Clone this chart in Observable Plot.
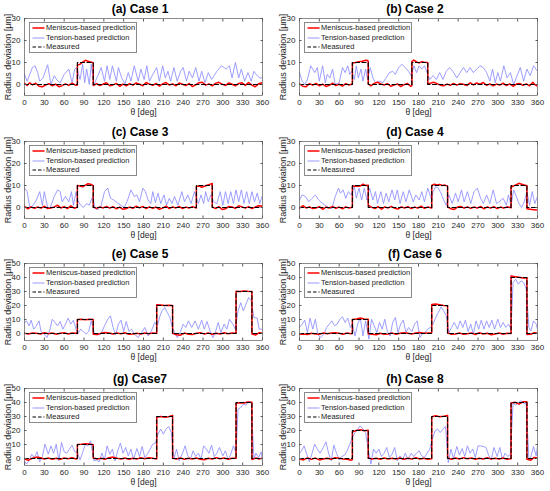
<!DOCTYPE html>
<html><head><meta charset="utf-8">
<script src="https://cdn.jsdelivr.net/npm/d3@7"></script>
<script src="https://cdn.jsdelivr.net/npm/@observablehq/plot@0.6"></script>
<style>
body{margin:0;background:#fff;font-family:Arial,"Liberation Sans",sans-serif;color:#262626}
#wrap{position:relative;width:550px;height:491px;overflow:hidden;background:#fff}
.panel{position:absolute;width:275px;height:123px}
.panel svg{position:absolute;left:0;top:0;overflow:visible}
.title{position:absolute;left:20px;width:240px;top:2px;text-align:center;font-weight:bold;font-size:12px;line-height:14px;color:#000}
.legend{position:absolute;left:29px;top:22px;width:108px;height:31px;background:#fff;border:0.8px solid #8a8a8a;box-sizing:border-box}
.legend .row{position:absolute;left:0;height:10px;width:100%}
.legend .row span{position:absolute;left:16px;top:0;font-size:7.5px;line-height:10px;color:#222;white-space:nowrap}
.legend .row svg{position:absolute;left:2px;top:3px}
</style></head>
<body><div id="wrap"></div>
<script>
// ---------- tick labels ----------
const xTicks = [0,30,60,90,120,150,180,210,240,270,300,330,360];
const yTicks30 = [0,10,20,30];
const yTicks50 = [0,10,20,30,40,50];
const titles = ["(a) Case 1","(b) Case 2","(c) Case 3","(d) Case 4","(e) Case 5","(f) Case 6","(g) Case7","(h) Case 8"];
const yMax = [30,30,30,30,50,50,50,50];
const legendLabels = ["Meniscus-based prediction","Tension-based prediction","Measured"];

// ---------- measured (theta, deviation) ----------
const c1Measured = [[0,0],[80,0],[80,10],[104,10],[104,0],[360,0]];
const c2Measured = [[0,0],[80,0],[80,10],[104,10],[104,0],[170,0],[170,10],[194,10],[194,0],[360,0]];
const c3Measured = [[0,0],[80,0],[80,10],[104,10],[104,0],[260,0],[260,10],[284,10],[284,0],[360,0]];
const c4Measured = [[0,0],[80,0],[80,10],[104,10],[104,0],[200,0],[200,10],[224,10],[224,0],[320,0],[320,10],[344,10],[344,0],[360,0]];
const c5Measured = [[0,0],[80,0],[80,10],[104,10],[104,0],[200,0],[200,20],[224,20],[224,0],[320,0],[320,30],[344,30],[344,0],[360,0]];
const c6Measured = [[0,0],[80,0],[80,10],[104,10],[104,0],[200,0],[200,20],[224,20],[224,0],[320,0],[320,40],[344,40],[344,0],[360,0]];
const c7Measured = [[0,0],[80,0],[80,10],[104,10],[104,0],[200,0],[200,30],[224,30],[224,0],[320,0],[320,40],[344,40],[344,0],[360,0]];
const c8Measured = [[0,0],[80,0],[80,20],[104,20],[104,0],[200,0],[200,30],[224,30],[224,0],[320,0],[320,40],[344,40],[344,0],[360,0]];

// ---------- meniscus-based prediction ----------
const c1Meniscus = [[0,0.5],[4,-0.4],[8,0.8],[12,-0.2],[17,0.6],[22,-0.8],[27,-1],[32,-0.3],[37,0.4],[42,-0.6],[47,0.2],[52,-1],[57,-0.5],[62,0.3],[67,-0.4],[72,0.6],[77,-0.3],[80,-0.2],[80,8.8],[84,9.2],[88,10.2],[92,11],[96,10.6],[100,10.2],[104,9.9],[104,-0.5],[109,0.4],[114,-0.5],[119,0.2],[124,0.8],[129,-0.6],[134,-0.2],[139,0.5],[144,-0.8],[149,0.2],[154,-0.6],[159,0.4],[164,-0.3],[169,0.7],[174,0.1],[179,-0.6],[184,0.9],[189,0.2],[194,-0.4],[199,0.5],[204,-0.7],[209,0.3],[214,0.9],[219,-0.2],[224,0.3],[229,-0.6],[234,0.7],[239,0.1],[244,-0.5],[249,0.4],[254,-0.9],[259,-0.2],[264,0.8],[269,1],[274,-0.3],[279,0.3],[284,-0.6],[289,0.5],[294,1],[299,0.2],[304,-0.5],[309,0.7],[314,0.1],[319,-0.6],[324,0.5],[329,0.8],[334,-0.4],[339,0.9],[344,-0.3],[349,-1],[354,0.3],[360,0.8]];
const c2Meniscus = [[0,0.3],[5,-0.8],[10,-1],[15,0.4],[20,-0.3],[25,0.5],[30,-0.6],[35,0.2],[40,-0.9],[45,-0.4],[50,0.6],[55,-0.5],[60,0.1],[65,-0.7],[70,0.4],[75,-0.2],[80,0.2],[80,9.8],[85,10],[90,10.4],[95,10.6],[100,11],[103,10.9],[104,10.5],[104,0.3],[108,-0.6],[113,0.5],[118,1],[123,0.3],[128,-0.2],[133,0.4],[138,-0.8],[143,-0.3],[148,0.3],[153,-0.9],[158,-0.2],[163,0.5],[168,-0.8],[170,-0.5],[170,10.5],[173,11.1],[177,10.3],[181,9.8],[185,10.4],[189,10.1],[194,10],[194,0.2],[198,0.6],[203,1],[208,0.4],[213,-0.3],[218,-0.6],[223,0.2],[228,-0.4],[233,0.5],[238,-0.3],[243,0.4],[248,0.1],[253,-0.5],[258,0.8],[263,-0.2],[268,0.7],[273,0.1],[278,0.9],[283,-0.4],[288,0.3],[293,-0.6],[298,0.2],[303,-0.3],[308,0.6],[313,-0.5],[318,0.3],[323,-0.8],[328,0.2],[333,0.5],[338,-0.4],[343,0.3],[348,-0.6],[353,1],[357,-0.3],[360,-0.8]];
const c3Meniscus = [[0,0.5],[5,-0.6],[10,0.3],[15,-0.4],[20,0.2],[25,-0.3],[30,0.6],[35,-0.5],[40,-0.2],[45,0.3],[50,1],[55,-0.2],[60,0.4],[65,-0.5],[70,0.8],[75,-0.3],[80,0.1],[80,10],[84,9.8],[88,9.4],[92,10.2],[96,10.8],[100,10.6],[104,9.9],[104,0.2],[109,-0.4],[114,0.3],[119,-0.2],[124,0.5],[129,-0.3],[134,0.4],[139,-0.6],[144,0.2],[149,-0.8],[154,-0.5],[159,0.2],[164,-0.4],[169,0.6],[174,-0.2],[179,0.5],[184,-0.5],[189,0.3],[194,-0.4],[199,0.2],[204,-0.8],[209,-0.3],[214,0.6],[219,-0.5],[224,0.3],[229,-0.2],[234,0.5],[239,-0.5],[244,0.2],[249,-0.3],[254,0.4],[260,-0.2],[260,9.6],[264,9.8],[268,9.2],[272,9.6],[276,10.1],[280,10.5],[284,10.9],[284,0.3],[289,-0.5],[294,0.4],[299,-0.9],[304,-0.6],[309,0.5],[314,0.2],[319,-0.4],[324,0.8],[329,0.3],[334,-0.3],[339,0.4],[344,-0.5],[349,0.2],[354,0.8],[360,0.6]];
const c4Meniscus = [[0,-0.3],[5,0.8],[10,-0.2],[15,0.3],[20,-0.5],[25,-0.2],[30,0.4],[35,-0.8],[40,0.2],[45,-0.3],[50,0.5],[55,-0.4],[60,0.2],[65,-0.6],[70,0.3],[75,-0.2],[80,0.1],[80,9.5],[84,9.8],[88,9.6],[92,9.8],[96,10.6],[100,10],[104,10.1],[104,1],[109,0.2],[114,-0.5],[119,0.4],[124,-0.8],[129,0.3],[134,-0.2],[139,0.5],[144,-0.4],[149,-0.7],[154,0.3],[159,-0.2],[164,0.4],[169,-0.5],[174,0.2],[179,-0.3],[184,0.6],[189,-0.4],[194,0.2],[200,-0.2],[200,10],[204,10.6],[208,10.2],[212,10.5],[216,10],[220,10.2],[224,9.6],[224,0.3],[229,-0.6],[234,-0.9],[239,0.2],[244,0.5],[249,-0.3],[254,0.3],[259,-0.4],[264,0.2],[269,-0.3],[274,0.5],[279,-0.6],[284,0.3],[289,-0.3],[294,0.4],[299,-0.5],[304,0.2],[309,-0.3],[314,0.3],[320,-0.1],[320,9.3],[324,9.8],[328,10.4],[332,11],[336,10.6],[340,10.2],[344,9.9],[344,-0.6],[349,-0.8],[354,-1],[360,-1.2]];
const c5Meniscus = [[0,0.2],[6,-0.3],[12,0.4],[18,0.1],[24,-0.4],[30,0.5],[36,-0.2],[42,0.3],[48,-0.5],[54,0.2],[60,0.6],[66,-0.3],[72,0.4],[78,0.1],[80,0],[80,10],[86,10.2],[92,9.9],[98,10.1],[104,10],[104,-0.5],[110,-0.8],[116,0.2],[122,0.7],[128,0.4],[134,-0.4],[140,0.3],[146,-0.2],[152,0.5],[158,-0.6],[164,-0.3],[170,0.2],[176,-0.4],[182,0.3],[188,-0.2],[194,0.4],[200,0.1],[200,20.6],[206,20.3],[212,20],[218,20.2],[224,20],[224,0.2],[230,-0.9],[236,-1.2],[242,0.3],[248,-0.5],[254,-0.8],[260,0.2],[266,0.6],[272,-0.3],[278,0.4],[284,-0.6],[290,0.2],[296,-0.4],[302,0.5],[308,-0.2],[314,0.3],[320,0.2],[320,30.2],[326,30],[332,30.3],[338,30.1],[344,30],[344,-0.4],[350,-1],[355,0.6],[360,0.4]];
const c6Meniscus = [[0,-0.5],[6,-0.3],[12,-0.8],[18,0.2],[24,-0.4],[30,-0.6],[36,0.3],[42,-0.2],[48,0.4],[54,0.6],[60,0.2],[66,-0.5],[72,0.3],[78,-0.2],[80,0],[80,10],[86,10.3],[92,11],[98,10.4],[104,10.2],[104,-0.2],[110,-0.6],[116,-0.9],[122,0.2],[128,-0.5],[134,-0.3],[140,0.3],[146,-0.6],[152,0.2],[158,0.6],[164,0.2],[170,-0.4],[176,0.3],[182,0.7],[188,0.2],[194,0.4],[200,0.5],[200,20.8],[206,21],[212,20.6],[218,20],[224,19.8],[224,0.3],[230,-0.5],[236,-0.3],[242,0.4],[248,-0.6],[254,-0.2],[260,0.3],[266,-0.7],[272,0.5],[278,-0.3],[284,0.2],[290,-0.9],[296,-0.4],[302,0.3],[308,-0.5],[314,0.2],[320,0],[320,41],[326,40.6],[332,40.1],[338,39.6],[344,39.8],[344,-0.8],[350,-0.5],[355,0.6],[360,0.2]];
const c7Meniscus = [[0,-0.4],[6,-1.2],[12,0.2],[18,1],[24,0.5],[30,-0.3],[36,0.4],[42,-0.5],[48,0.2],[54,-0.6],[60,0.3],[66,-0.2],[72,0.5],[78,-0.3],[80,0],[80,10],[86,10.2],[92,10.6],[98,10.3],[104,9.8],[104,0.3],[110,-0.4],[116,0.2],[122,-0.5],[128,0.6],[134,1],[140,0.2],[146,-0.3],[152,0.4],[158,-0.5],[164,0.2],[170,-0.3],[176,0.6],[182,-0.2],[188,0.5],[194,0.1],[200,-0.3],[200,29.4],[206,30],[212,29.5],[218,29.8],[224,30.8],[224,0.2],[230,-0.4],[236,0.3],[242,-0.6],[248,0.2],[254,-0.3],[260,0.4],[266,-0.5],[272,-0.9],[278,0.2],[284,-0.4],[290,0.6],[296,-0.2],[302,0.3],[308,-0.5],[314,0.2],[320,0.1],[320,39.4],[326,39.8],[332,39.6],[338,40.4],[344,40.2],[344,-0.8],[350,0.4],[355,-0.3],[360,0.3]];
const c8Meniscus = [[0,-0.3],[6,-1],[12,0.4],[18,-0.6],[24,0.3],[30,-1],[36,-0.4],[42,0.2],[48,-0.5],[54,0.5],[60,0.2],[66,-0.3],[72,-0.5],[78,-1.2],[80,-0.8],[80,19],[86,20],[92,20.6],[98,19.8],[104,20.2],[104,0.4],[110,-0.3],[116,0.2],[122,-0.5],[128,0.3],[134,-0.4],[140,0.2],[146,-0.3],[152,0.4],[158,-0.6],[164,0.2],[170,-0.4],[176,0.5],[182,-0.3],[188,0.2],[194,-0.6],[200,-0.2],[200,29.8],[206,30.6],[212,29.8],[218,30.2],[224,30.8],[224,0.3],[230,-0.5],[236,0.4],[242,-0.3],[248,0.6],[254,-0.2],[260,0.3],[266,-0.5],[272,0.2],[278,-0.3],[284,0.5],[290,-0.4],[296,0.2],[302,-0.3],[308,0.4],[314,-0.5],[320,-0.2],[320,39.6],[326,40.2],[332,38.8],[338,40.5],[344,40.6],[344,-0.6],[350,-1.2],[355,0.8],[360,0.4]];

// ---------- tension-based prediction ----------
const c1Tension = [[0,4.6],[4,1.5],[12,7.7],[16,8.5],[20,5.4],[23,1.5],[28,3],[35,9],[40,0],[45,4],[49,2],[54,0.8],[60,4.6],[67,7],[72,0.8],[76,7],[79,7.7],[84,2.3],[88,9.2],[91,0.8],[94,7],[98,0],[101,9.2],[105,0],[111,4],[116,7.7],[121,1.5],[125,8.5],[129,2.3],[133,8.5],[139,1.5],[142,7.7],[147,3],[152,0.3],[157,5.4],[161,1.5],[166,8.5],[172,1.5],[176,7],[181,2.3],[185,8.5],[189,1.5],[194,4.6],[200,7.7],[204,1.5],[209,8.5],[213,3],[217,6],[221,1.5],[226,7.7],[231,1.5],[236,6],[240,7.7],[245,1.5],[249,6],[254,3],[259,7.7],[264,1.5],[268,6],[273,0.8],[278,5.4],[283,2.3],[291,6],[298,8.5],[305,7],[310,8.5],[314,3],[319,10],[324,3],[328,7],[333,1.5],[338,5.4],[343,1.5],[347,6],[352,4],[356,3],[360,3]];
const c2Tension = [[0,5.4],[4,1.5],[8,0],[12,2.3],[17,8.5],[20,7],[23,5.4],[27,7.7],[30,1.5],[35,8.5],[39,0.8],[42,4.6],[46,3],[50,7],[54,0],[60,0.8],[65,7.7],[69,5.4],[73,8.5],[76,4.6],[79,6],[83,2.3],[86,8.5],[89,3],[93,7],[96,1.5],[100,7],[103,2.3],[107,7.7],[111,3],[115,0.8],[121,1.5],[126,0.8],[131,3],[136,5.4],[141,6],[145,4.6],[150,7.7],[155,9.2],[160,7.7],[165,6],[169,4],[173,8.5],[177,5.4],[181,8.5],[185,7],[189,8.5],[193,5.4],[197,2.3],[202,4],[207,2.3],[212,5.4],[217,2.3],[222,6],[227,7.7],[232,6],[238,3],[243,5.4],[248,7.7],[253,5.4],[258,7.7],[263,5.4],[268,7],[273,8.5],[278,7.7],[283,5.4],[288,1.5],[292,7],[296,0.8],[300,5.4],[304,1.5],[309,8.5],[314,3],[319,5.4],[324,0],[329,4],[334,7.7],[339,1.5],[344,7],[349,4],[354,8.5],[360,6]];
const c3Tension = [[0,8.8],[4,7.2],[8,0],[13,1],[18,3.4],[23,7.2],[27,1],[30,7.2],[35,0],[39,0],[45,5],[50,8],[54,7.2],[57,2.6],[62,5],[67,2.6],[71,7.2],[74,1],[78,7.2],[81,3],[85,1],[89,0],[94,1.8],[98,1],[103,5],[107,-0.5],[111,-1],[116,1],[121,7.2],[126,8.8],[130,4.2],[135,3.4],[140,2.2],[146,1],[151,0],[156,3.4],[161,8],[166,5],[170,5.7],[174,2.6],[179,8.8],[183,7.2],[187,3.4],[191,1.8],[194,7.2],[198,2.2],[202,6.5],[206,1.8],[211,5.7],[215,1],[219,4.2],[223,1.8],[227,5],[232,1],[238,7.2],[242,2.6],[247,5.7],[252,1.8],[257,7.2],[263,1.8],[267,5.7],[271,1.8],[274,7.2],[278,2.6],[282,5.7],[286,2.6],[291,1.8],[296,7.2],[300,1],[304,7.2],[308,1.8],[312,7.2],[316,1.8],[320,8],[324,2.6],[328,8],[332,1.8],[336,7.2],[340,1.8],[344,7.2],[348,2.6],[352,6.5],[356,1.8],[360,5.7]];
const c4Tension = [[0,3.4],[4,5.7],[9,5],[14,2.6],[19,4.2],[24,5.7],[29,3.4],[35,1.8],[39,1],[44,0],[49,-0.5],[54,5],[59,8.8],[62,6.5],[66,8],[70,4.2],[74,7.2],[78,5.7],[83,9.5],[86,4.2],[90,8.8],[94,3.4],[98,8.8],[102,3.4],[106,8.8],[111,3.4],[115,7.2],[118,1.8],[123,7.2],[127,1.8],[131,6.5],[135,2.6],[140,8],[144,3.4],[148,8],[152,1.8],[157,7.2],[161,2.6],[166,8],[172,2.6],[176,5.7],[181,3.4],[185,7.2],[189,2.6],[194,8.8],[200,3.4],[202,7.2],[206,9.5],[210,8.8],[214,6.5],[218,3.4],[222,1],[226,5.7],[231,1.8],[236,6.5],[240,2.6],[245,8],[249,2.6],[254,7.2],[259,1.8],[264,7.2],[269,8.8],[274,4.2],[278,1.8],[283,5.7],[288,1.8],[293,8],[298,1.8],[302,2.6],[308,4.2],[313,1],[316,5.7],[320,1],[324,8],[328,5],[332,1.8],[336,0],[340,2.6],[344,7.2],[348,1],[352,7.2],[356,1.8],[360,5]];
const c5Tension = [[0,7.9],[3,9],[7,5.5],[10,9.5],[14,3.1],[18,5.5],[22,9],[25,1.4],[29,0],[34,-2.9],[38,1.9],[42,10.2],[46,7.9],[50,5.5],[54,8.6],[58,3.1],[62,6.7],[66,11],[70,6.7],[74,9.5],[78,3.1],[81,0],[85,3.1],[89,1.4],[93,-0.5],[97,1.4],[101,9],[106,-0.5],[111,-1],[116,0],[121,5.5],[126,10.2],[130,12.6],[134,4.3],[138,-1],[142,6.7],[146,9.5],[150,1.4],[154,8.6],[158,1.4],[162,3.1],[166,-0.5],[172,-2.9],[177,0.7],[182,4.3],[187,-1.7],[192,1.9],[197,7.9],[201,5.5],[205,12.6],[208,16.2],[212,18.6],[216,15],[220,11.4],[223,5.5],[227,0.7],[231,-2.9],[236,1.4],[240,6.7],[244,4.3],[248,9],[253,4.3],[258,9],[263,3.1],[268,9.5],[272,3.1],[276,8.6],[281,1.4],[285,-2.9],[289,1.4],[293,7.9],[297,0.7],[302,6.7],[306,3.1],[310,10.2],[315,6.7],[319,3.1],[323,16.2],[327,22],[331,16.2],[335,21],[339,25.7],[343,23.3],[347,11.4],[352,11],[355,3.1],[360,3.1]];
const c6Tension = [[0,4.3],[4,6.7],[8,9.5],[12,0.7],[16,11],[20,3.1],[24,10.2],[28,-1],[32,-2.9],[37,-0.5],[41,4.3],[45,6.7],[49,9],[53,5.5],[57,6.7],[61,10.2],[65,11.9],[69,7.9],[73,11],[77,4.3],[80,6.7],[84,-1.7],[88,6.7],[92,11],[96,-1.7],[100,9],[105,-4],[109,10.2],[113,5.5],[117,0.7],[121,7.9],[125,3.1],[129,10.2],[133,1.4],[137,-1.7],[141,7.9],[145,11.4],[149,0.7],[153,6.7],[157,9.5],[161,0.7],[165,4.3],[170,1.4],[174,6.7],[178,9],[182,-2.9],[186,0],[190,0.7],[194,3.1],[198,4.3],[202,6.7],[206,11.4],[210,15],[214,19],[218,16.2],[222,12.6],[226,0.7],[230,4.3],[234,7.9],[239,3.1],[243,9],[247,4.3],[251,9.5],[255,1.4],[259,6.7],[263,-0.5],[267,9],[271,3.1],[275,9.5],[279,3.1],[283,9],[287,4.3],[291,9.5],[295,3.1],[300,10.2],[304,4.3],[308,7.9],[312,4.3],[316,6.7],[320,3.1],[323,36.4],[327,38.8],[331,35.2],[335,37.6],[339,36.4],[343,31.7],[347,4.3],[350,1.9],[354,9],[358,6.7],[360,3.1]];
const c7Tension = [[0,-1.7],[3,-4],[7,-1.7],[11,3.1],[15,0.7],[19,4.8],[23,-2.4],[27,1.4],[31,10.2],[36,3.1],[40,9],[44,3.8],[48,10.2],[52,-1.7],[56,11.4],[60,4.8],[64,3.8],[68,6.7],[72,9.5],[76,4.8],[80,4.3],[84,-1],[88,4.3],[92,10.2],[96,9],[100,12.6],[105,-1.7],[109,-1],[113,-2.4],[117,3.8],[121,-1],[125,9],[129,3.1],[133,6.7],[137,-1.7],[141,5.5],[145,11],[149,3.8],[153,7.9],[157,1.9],[161,6.7],[165,-0.5],[170,7.1],[174,1.4],[178,8.6],[182,0.7],[186,3.1],[190,6.7],[194,10.2],[198,11],[202,17.4],[206,21],[210,17.4],[214,21],[218,22.9],[222,18.6],[226,0],[230,6.7],[234,-1.7],[239,3.8],[243,9],[247,1.9],[251,-0.5],[255,5.5],[259,1.4],[263,3.8],[267,-0.5],[271,9],[275,6.7],[279,3.8],[283,9.5],[287,1.4],[291,3.8],[295,7.9],[300,1.9],[304,5.5],[308,-1],[312,3.1],[316,9],[320,3.8],[323,35.2],[327,36.4],[331,38.8],[335,38.1],[339,40.5],[343,40],[347,-0.5],[350,3.8],[354,0.7],[358,4.8],[360,-2.9]];
const c8Tension = [[0,3.8],[3,5.5],[7,9],[11,3.1],[15,-2.4],[19,3.8],[23,10.2],[27,6.7],[31,3.8],[36,7.9],[40,11.9],[44,3.8],[48,-1.7],[52,9.5],[56,3.8],[60,-1],[64,1.4],[68,2.4],[72,5.5],[76,10.2],[80,15],[84,18.6],[88,21],[92,23.3],[96,21],[100,18.6],[103,9],[108,-4],[112,6.7],[116,3.8],[120,6.7],[124,1.4],[128,3.8],[132,7.9],[136,0.7],[140,3.1],[144,7.9],[148,-1.7],[152,1.9],[156,-1],[160,3.8],[164,-0.5],[169,3.8],[173,1.4],[177,3.8],[181,5.5],[185,1.9],[189,0.7],[193,3.8],[197,6.7],[201,13.8],[205,19.8],[209,21],[213,18.6],[217,21],[221,22.9],[225,-2.9],[229,6.7],[233,0],[238,8.6],[242,2.4],[246,7.1],[250,1.4],[254,9],[258,3.8],[262,6.7],[266,0.7],[270,9],[274,9],[278,8.6],[282,7.9],[286,2.4],[290,-1],[294,7.9],[299,1.4],[303,7.9],[307,-0.5],[311,3.8],[315,1.4],[319,3.1],[323,39.5],[327,38.1],[331,40],[335,41.2],[339,39.5],[343,38.8],[347,-1],[350,1.4],[354,8.6],[358,1.9],[360,9]];

const meniscus = [c1Meniscus,c2Meniscus,c3Meniscus,c4Meniscus,c5Meniscus,c6Meniscus,c7Meniscus,c8Meniscus];
const tension = [c1Tension,c2Tension,c3Tension,c4Tension,c5Tension,c6Tension,c7Tension,c8Tension];
const measured = [c1Measured,c2Measured,c3Measured,c4Measured,c5Measured,c6Measured,c7Measured,c8Measured];

// ---------- layout ----------
const colX = [0,275];
const rowY = [0,123,245,370];
const RED = "#ff0000", BLUE = "#8c8cff", BLACK = "#000000";
const FONT = "Arial, 'Liberation Sans', sans-serif";
const wrap = document.getElementById("wrap");
const toRows = a => a.map(([t,v]) => ({t, v}));

titles.forEach((title, i) => {
  const panel = document.createElement("div");
  panel.className = "panel";
  panel.style.left = colX[i % 2] + "px";
  panel.style.top = rowY[Math.floor(i / 2)] + "px";
  const yt = yMax[i] === 30 ? yTicks30 : yTicks50;
  const svg = Plot.plot({
    width: 275, height: 123,
    marginLeft: 24, marginRight: 13, marginTop: 18, marginBottom: 28,
    style: {fontFamily: FONT, fontSize: "8px", color: "#262626", background: "transparent", overflow: "visible"},
    x: {domain: [0, 360]},
    y: {domain: [-5, yMax[i]]},
    marks: [
      Plot.line(toRows(tension[i]), {x: "t", y: "v", stroke: BLUE, strokeWidth: 0.85, clip: true}),
      Plot.line(toRows(meniscus[i]), {x: "t", y: "v", stroke: RED, strokeWidth: 1.5, clip: true}),
      Plot.line(toRows(measured[i]), {x: "t", y: "v", stroke: BLACK, strokeWidth: 1.1, strokeDasharray: "4,2.5", clip: true}),
      Plot.frame({stroke: "#5a5a5a", strokeWidth: 0.7}),
      Plot.axisX({ticks: xTicks, tickSize: -2.5, tickPadding: 6, stroke: "#5a5a5a", label: null}),
      Plot.axisX({ticks: [], tickSize: 0, label: "θ [deg]", labelAnchor: "center", labelOffset: 19, labelArrow: "none", fontSize: 8.5}),
      Plot.axisX({anchor: "top", ticks: xTicks, tickSize: -2.5, tickFormat: () => "", stroke: "#5a5a5a", label: null}),
      Plot.axisY({ticks: yt, tickSize: -2.5, tickPadding: 6.5, stroke: "#5a5a5a", label: null}),
      Plot.axisY({ticks: [], tickSize: 0, label: "Radius deviation [μm]", labelAnchor: "center", labelOffset: 20, labelArrow: "none", fontSize: 9}),
      Plot.axisY({anchor: "right", ticks: yt, tickSize: -2.5, tickFormat: () => "", stroke: "#5a5a5a", label: null})
    ]
  });
  panel.appendChild(svg);

  const t = document.createElement("div");
  t.className = "title";
  t.textContent = title;
  panel.appendChild(t);

  const lg = document.createElement("div");
  lg.className = "legend";
  const styles = [
    {stroke: RED, w: 1.5, dash: null},
    {stroke: BLUE, w: 0.9, dash: null},
    {stroke: BLACK, w: 1.1, dash: "3.5,2"}
  ];
  legendLabels.forEach((lab, k) => {
    const row = document.createElement("div");
    row.className = "row";
    row.style.top = (k * 9.7) + "px";
    const s = styles[k];
    row.innerHTML = `<svg width="13" height="4"><line x1="0.5" y1="2" x2="12.5" y2="2" stroke="${s.stroke}" stroke-width="${s.w}" ${s.dash ? `stroke-dasharray="${s.dash}"` : ""}/></svg><span>${lab}</span>`;
    lg.appendChild(row);
  });
  panel.appendChild(lg);
  wrap.appendChild(panel);
});
</script>
</body></html>
